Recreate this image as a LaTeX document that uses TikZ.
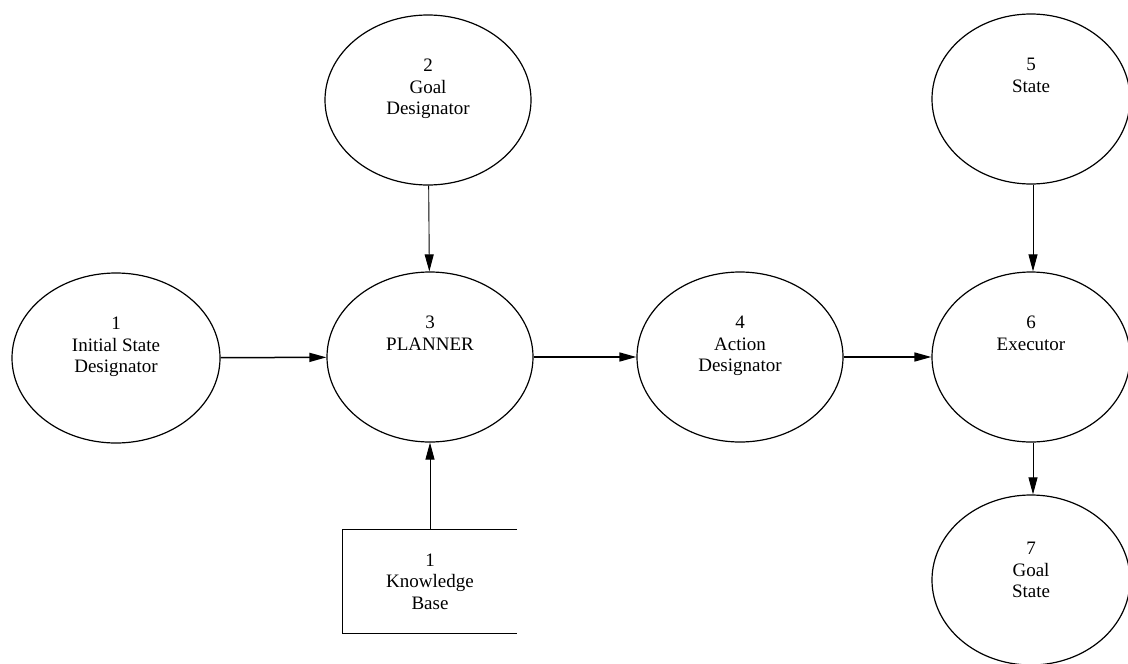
\documentclass[tikz,border=0pt]{standalone}
\usepackage{fontspec}
\setmainfont{Liberation Serif}
\usetikzlibrary{shapes.geometric,arrows.meta}

\begin{document}
\begin{tikzpicture}[x=1pt,y=-1pt,
  bubble/.style={ellipse, draw, line width=1.2pt, inner sep=0pt,
                 minimum width=206pt, minimum height=170pt},
  rbubble/.style={bubble, minimum width=198pt},
  caption/.style={anchor=north, align=center, inner sep=0pt,
                  font=\fontsize{19}{21.5}\selectfont},
  hflow/.style={line width=1.5pt, -{Triangle[length=17pt,width=9pt]}},
  vflow/.style={line width=0.9pt, -{Triangle[length=17pt,width=9pt]}}
]
\useasboundingbox (0,0) rectangle (1128,664);

% processes
\node[bubble, minimum width=208pt] (init) at (116,358) {};
\node[bubble] (goal)     at (428,100) {};
\node[bubble] (planner)  at (430,357) {};
\node[bubble] (action)   at (740,357) {};
\node[rbubble] (state)   at (1031,99) {};
\node[rbubble] (exec)    at (1031,357) {};
\node[rbubble] (gstate)  at (1031,580) {};

% their captions (canvas shifts: positive is upwards)
\node[caption] (tinit)    at ([yshift=41pt]init.center)    {1\\Initial State\\Designator};
\node[caption] (tgoal)    at ([yshift=41pt]goal.center)    {2\\Goal\\Designator};
\node[caption] (tplanner) at ([yshift=41pt]planner.center) {3\\PLANNER};
\node[caption] (taction)  at ([yshift=41pt]action.center)  {4\\Action\\Designator};
\node[caption] (tstate)   at ([yshift=41pt]state.center)   {5\\State};
\node[caption] (texec)    at ([yshift=41pt]exec.center)    {6\\Executor};
\node[caption] (tgstate)  at ([yshift=38pt]gstate.center)  {7\\Goal\\State};

% data store: open on the right
\node[rectangle, minimum width=174pt, minimum height=103pt, inner sep=0pt,
      align=center, font=\fontsize{19}{21.5}\selectfont] (kb) at (430,581.5)
      {1\\Knowledge\\Base};
\draw[line width=1.2pt] (kb.north east) -- (kb.north west) -- (kb.south west) -- (kb.south east);

% flows
\draw[hflow] (init) -- (planner);
\draw[hflow] (planner) -- (action);
\draw[hflow] (action) -- (exec);
\draw[vflow] (goal) -- (planner);
\draw[vflow] (kb.north) -- (planner.south);
\draw[vflow] ([xshift=2pt]state.south) -- ([xshift=2pt]exec.north);
\draw[vflow] ([xshift=2pt]exec.south) -- ([xshift=2pt]gstate.north);
\end{tikzpicture}
\end{document}
